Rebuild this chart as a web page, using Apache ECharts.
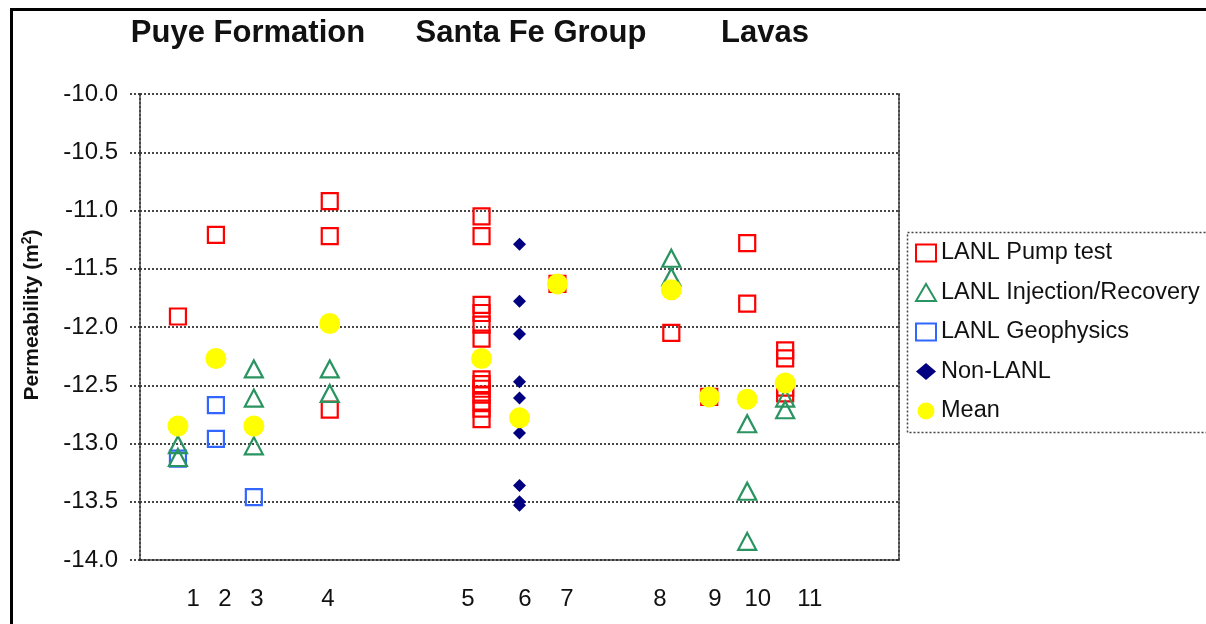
<!DOCTYPE html>
<html>
<head>
<meta charset="utf-8">
<script src="https://cdn.jsdelivr.net/npm/echarts@6/dist/echarts.min.js"></script>
<style>
html,body{margin:0;padding:0;background:#fff;}
#chart{width:1206px;height:624px;}
</style>
</head>
<body>
<div id="chart"></div>
<script>
// x position of each sample group (1..11) on the value axis
const groupPos = [1, 2, 3, 5, 9, 10, 11, 14, 15, 16, 17];
// tick label text and where each label sits on the axis
const tickLabels = ['1', '2', '3', '4', '5', '6', '7', '8', '9', '10', '11'];
const tickLabelPos = [1.4, 2.24, 3.08, 4.95, 8.64, 10.14, 11.25, 13.7, 15.15, 16.28, 17.65];
const formationNames = ['Puye Formation', 'Santa Fe Group', 'Lavas'];
const seriesNames = ['LANL Pump test', 'LANL Injection/Recovery', 'LANL Geophysics', 'Non-LANL', 'Mean'];

// [group number, log10 permeability]
const pumpTest = [
  [1, -11.91], [2, -11.21],
  [4, -10.92], [4, -11.22], [4, -12.71],
  [5, -11.05], [5, -11.22], [5, -11.81], [5, -11.88], [5, -11.98], [5, -12.10],
  [5, -12.45], [5, -12.49], [5, -12.53], [5, -12.58], [5, -12.64], [5, -12.70], [5, -12.79],
  [7, -11.63], [8, -12.05], [9, -12.60],
  [10, -11.28], [10, -11.80],
  [11, -12.20], [11, -12.27], [11, -12.52], [11, -12.57]
];
const injection = [
  [1, -13.01], [1, -13.12],
  [3, -12.36], [3, -12.61], [3, -13.02],
  [4, -12.36], [4, -12.57],
  [8, -11.41], [8, -11.57],
  [10, -12.83], [10, -13.41], [10, -13.84],
  [11, -12.61], [11, -12.71]
];
const geophysics = [
  [1, -13.13], [2, -12.67], [2, -12.96], [3, -13.46]
];
const nonLanl = [
  [6, -11.29], [6, -11.78], [6, -12.06], [6, -12.47], [6, -12.61],
  [6, -12.91], [6, -13.36], [6, -13.50], [6, -13.53]
];
const meanVals = [
  [1, -12.85], [2, -12.27], [3, -12.85], [4, -11.97], [5, -12.27], [6, -12.78],
  [7, -11.63], [8, -11.68], [9, -12.60], [10, -12.62], [11, -12.48]
];

function toXY(arr) { return arr.map(d => [groupPos[d[0] - 1], d[1]]); }

const FONT = 'Liberation Sans, Arial, sans-serif';
const gridLine = { color: '#333', width: 1.8, type: [2, 2] };

const chart = echarts.init(document.getElementById('chart'), null, { renderer: 'canvas' });

const titlePos = [243, 526, 760];

chart.setOption({
  backgroundColor: '#fff',
  animation: false,
  title: formationNames.map((t, i) => ({
    text: t,
    left: titlePos[i],
    top: 13,
    textAlign: 'center',
    textStyle: { fontFamily: FONT, fontSize: 31, fontWeight: 'bold', color: '#111' }
  })),
  graphic: [
    { type: 'rect', shape: { x: 11.5, y: 9.5, width: 1400, height: 800 },
      style: { fill: 'none', stroke: '#000', lineWidth: 3 }, silent: true },
    { type: 'rect', shape: { x: 907.5, y: 232.5, width: 400, height: 200 },
      style: { fill: 'none', stroke: '#444', lineWidth: 1.5, lineDash: [2, 2] }, silent: true, z: -1 }
  ],
  legend: {
    orient: 'vertical',
    left: 915,
    top: 241,
    padding: 0,
    itemWidth: 20,
    itemHeight: 17,
    itemGap: 15.5,
    data: seriesNames,
    textStyle: { fontFamily: FONT, fontSize: 23.5, color: '#111', lineHeight: 24 }
  },
  grid: { left: 140, right: 307, top: 94, bottom: 64 },
  xAxis: {
    type: 'value',
    min: 0,
    max: 20,
    axisLine: { show: true, onZero: false, lineStyle: gridLine },
    axisTick: { show: false },
    splitLine: { show: false },
    axisLabel: {
      customValues: tickLabelPos,
      formatter: function (v) {
        let best = 0, bd = Infinity;
        tickLabelPos.forEach((p, i) => { const d = Math.abs(p - v); if (d < bd) { bd = d; best = i; } });
        return tickLabels[best];
      },
      margin: 27,
      fontFamily: FONT, fontSize: 24, color: '#111'
    }
  },
  yAxis: [{
    type: 'value',
    min: -14,
    max: -10,
    interval: 0.5,
    name: '{a|Permeability (m}{s|2}{a|)}',
    nameLocation: 'middle',
    nameGap: 96,
    nameRotate: 90,
    nameTextStyle: {
      padding: [0, 0, 0, 24],
      rich: {
        a: { fontFamily: FONT, fontSize: 21, fontWeight: 'bold', color: '#111' },
        s: { fontFamily: FONT, fontSize: 14, fontWeight: 'bold', color: '#111', verticalAlign: 'top', padding: [0, 0, 10, 0] }
      }
    },
    axisLine: { show: true, lineStyle: gridLine },
    axisTick: { show: true, length: 10, lineStyle: gridLine },
    splitLine: { show: true, lineStyle: gridLine },
    axisLabel: {
      formatter: v => v.toFixed(1),
      margin: 22,
      fontFamily: FONT, fontSize: 24, color: '#111'
    }
  }, {
    type: 'value',
    position: 'right',
    min: -14,
    max: -10,
    interval: 0.5,
    axisLine: { show: true, lineStyle: gridLine },
    axisTick: { show: false },
    axisLabel: { show: false },
    splitLine: { show: false }
  }],
  series: [
    {
      name: seriesNames[0], type: 'scatter', symbol: 'rect', symbolSize: 16,
      itemStyle: { color: 'rgba(255,255,255,0)', borderColor: '#ff0000', borderWidth: 2.2, opacity: 1 },
      data: toXY(pumpTest), z: 2
    },
    {
      name: seriesNames[1], type: 'scatter', symbol: 'triangle', symbolSize: [18, 17],
      itemStyle: { color: 'rgba(255,255,255,0)', borderColor: '#2a9461', borderWidth: 2.2, opacity: 1 },
      data: toXY(injection), z: 3
    },
    {
      name: seriesNames[2], type: 'scatter', symbol: 'rect', symbolSize: 16,
      itemStyle: { color: 'rgba(255,255,255,0)', borderColor: '#3366ff', borderWidth: 2.2, opacity: 1 },
      data: toXY(geophysics), z: 2
    },
    {
      name: seriesNames[3], type: 'scatter', symbol: 'diamond', symbolSize: [13, 13],
      itemStyle: { color: '#000080', opacity: 1 },
      data: toXY(nonLanl), z: 4
    },
    {
      name: seriesNames[4], type: 'scatter', symbol: 'circle', symbolSize: 21,
      itemStyle: { color: '#ffff00', opacity: 1 },
      data: toXY(meanVals), z: 5
    }
  ]
});
</script>
</body>
</html>
